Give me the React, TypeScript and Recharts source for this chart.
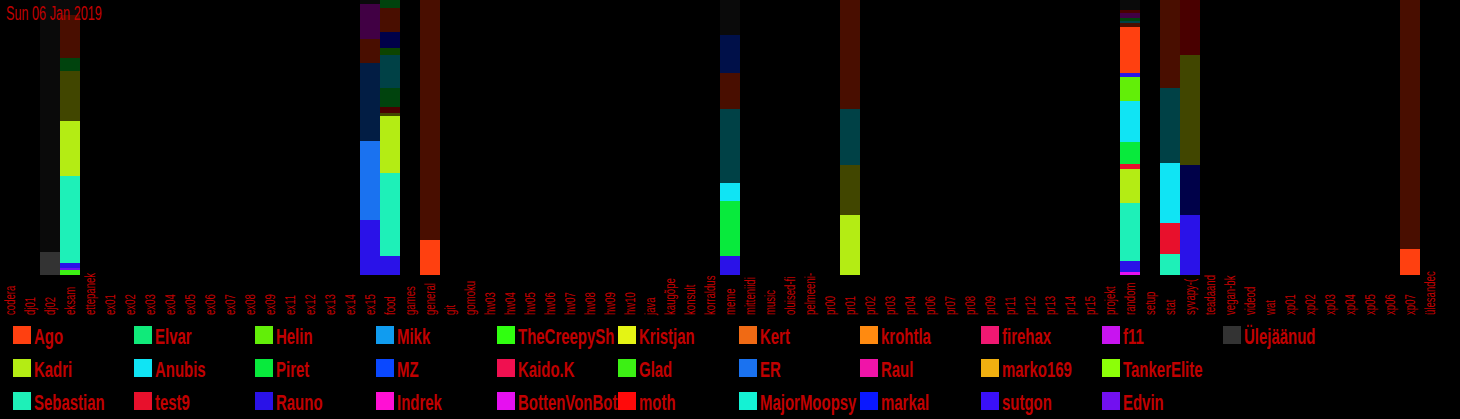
import React from 'react';
import { BarChart, Bar, XAxis, YAxis, Cell } from 'recharts';

const title = 'Sun 06 Jan 2019';

const categories = [
  'codera', 'dj01', 'dj02', 'eksam', 'ettepanek', 'ex01', 'ex02', 'ex03', 'ex04', 'ex05', 'ex06', 'ex07',
  'ex08', 'ex09', 'ex11', 'ex12', 'ex13', 'ex14', 'ex15', 'food', 'games', 'general', 'git', 'gomoku',
  'hw03', 'hw04', 'hw05', 'hw06', 'hw07', 'hw08', 'hw09', 'hw10', 'java', 'kaugõpe', 'konsult', 'korraldus',
  'meme', 'mitteniidi', 'music', 'oluised-fi', 'pelmeeni-', 'pr00', 'pr01', 'pr02', 'pr03', 'pr04', 'pr06',
  'pr07', 'pr08', 'pr09', 'pr11', 'pr12', 'pr13', 'pr14', 'pr15', 'projekt', 'random', 'setup', 'stat',
  'syvapy-(', 'teadaand', 'vegan-bk', 'videod', 'wat', 'xp01', 'xp02', 'xp03', 'xp04', 'xp05', 'xp06',
  'xp07', 'ülesandec',
];

// legend order (column-major, 3 rows)
const users = [
  'Ago', 'Kadri', 'Sebastian', 'Elvar', 'Anubis', 'test9', 'Helin', 'Piret', 'Rauno', 'Mikk', 'MZ', 'Indrek',
  'TheCreepySh', 'Kaido.K', 'BottenVonBot', 'Kristjan', 'Glad', 'moth', 'Kert', 'ER', 'MajorMoopsy',
  'krohtla', 'Raul', 'markal', 'firehax', 'marko169', 'sutgon', 'f11', 'TankerElite', 'Edvin', 'Ülejäänud',
];
const userColors = [
  '#ff4010', '#b4ec14', '#1ef0b8', '#10ea7a', '#10e4f4', '#e8102c', '#62ee08', '#08ea3c', '#2a12e8', '#109cf0',
  '#0a48ff', '#ff10d4', '#30ff10', '#f01050', '#e610f0', '#e4f414', '#3cf014', '#ff0a0a', '#f06a14', '#1a72f0',
  '#14f2d4', '#ff8a10', '#f014a8', '#0a18ff', '#f01872', '#f0b010', '#3a10f8', '#c814f0', '#8cff08', '#7210f0',
  '#333333',
];

// stacks, bottom to top: [user, share, earlier period]
type Seg = [string, number, boolean?];
const dj02Stack: Seg[] = [['Ülejäänud', 23], ['Ülejäänud', 252, true]];
const eksamStack: Seg[] = [
  ['Glad', 5], ['Edvin', 2], ['Rauno', 5], ['Sebastian', 87], ['Kadri', 55], ['Kristjan', 50, true],
  ['Piret', 13, true], ['Ago', 43, true], ['Ülejäänud', 15, true],
];
const ex15Stack: Seg[] = [
  ['Rauno', 55], ['ER', 79], ['ER', 78, true], ['Ago', 24, true], ['BottenVonBot', 35, true], ['Ülejäänud', 4, true],
];
const foodStack: Seg[] = [
  ['Rauno', 19], ['Sebastian', 83], ['Kadri', 57], ['Kristjan', 3, true], ['moth', 6, true], ['Piret', 19, true],
  ['Anubis', 33, true], ['Glad', 7, true], ['markal', 16, true], ['Ago', 24, true], ['Piret', 8, true],
];
const generalStack: Seg[] = [['Ago', 35], ['Ago', 240, true]];
const memeStack: Seg[] = [
  ['Rauno', 19], ['Piret', 55], ['Anubis', 18], ['Anubis', 74, true], ['Ago', 36, true], ['MZ', 38, true],
  ['Ülejäänud', 35, true],
];
const pr01Stack: Seg[] = [['Kadri', 60], ['Kristjan', 50, true], ['Anubis', 56, true], ['Ago', 109, true]];
const randomStack: Seg[] = [
  ['BottenVonBot', 3], ['Rauno', 11], ['Sebastian', 58], ['Kadri', 34], ['test9', 5], ['Piret', 22],
  ['Anubis', 41], ['Helin', 24], ['Rauno', 4], ['Ago', 46], ['Ago', 4, true], ['Anubis', 2, true],
  ['Piret', 3, true], ['BottenVonBot', 5, true], ['moth', 3, true], ['Ülejäänud', 10, true],
];
const statStack: Seg[] = [['Sebastian', 21], ['test9', 31], ['Anubis', 60], ['Anubis', 75, true], ['Ago', 88, true]];
const syvapyStack: Seg[] = [['Rauno', 60], ['markal', 50, true], ['Kristjan', 110, true], ['moth', 55, true]];
const xp07Stack: Seg[] = [['Ago', 26], ['Ago', 249, true]];

const channelStacks: Record<string, Seg[]> = {
  dj02: dj02Stack, eksam: eksamStack, ex15: ex15Stack, food: foodStack, general: generalStack,
  meme: memeStack, pr01: pr01Stack, random: randomStack, stat: statStack, 'syvapy-(': syvapyStack,
  xp07: xp07Stack,
};

const TEXT_RED = '#c00000';
const FONT = '"Liberation Sans", Arial, sans-serif';

function shade(hex: string, dim?: boolean): string {
  if (!dim) return hex;
  const n = parseInt(hex.slice(1), 16);
  const d = (c: number) => Math.max(0, Math.round(c * 0.31 - 6));
  return `rgb(${d((n >> 16) & 255)},${d((n >> 8) & 255)},${d(n & 255)})`;
}
const colorOf = (u: string) => userColors[users.indexOf(u)] ?? '#333333';

const layerCount = Math.max(...Object.values(channelStacks).map((s) => s.length));
const layers = Array.from({ length: layerCount }, (_, i) => i);

const rows = categories.map((name) => {
  const stack = channelStacks[name] ?? [];
  const row: Record<string, any> = { name };
  layers.forEach((i) => {
    const seg = stack[i];
    row[`s${i}`] = seg ? seg[1] : 0;
    row[`c${i}`] = seg ? shade(colorOf(seg[0]), seg[2]) : 'transparent';
  });
  return row;
});

const CatTick = (props: any) => {
  const { x, payload } = props;
  return (
    <g transform={`translate(${x + 5},315) rotate(-90) scale(0.64,1)`}>
      <text x={0} y={0} fill={TEXT_RED} fontSize={15} fontFamily={FONT} textAnchor="start">
        {payload.value}
      </text>
    </g>
  );
};

const LegendBlock = () => (
  <>
    {users.map((u, i) => {
      const col = Math.floor(i / 3);
      const row = i % 3;
      return (
        <div
          key={u}
          style={{ position: 'absolute', left: 13 + col * 121, top: 326 + row * 33, width: 118, height: 24 }}
        >
          <div style={{ position: 'absolute', left: 0, top: 0, width: 18, height: 18, background: userColors[i] }} />
          <div
            style={{
              position: 'absolute', left: 21, top: -0.5,
              fontFamily: FONT, fontSize: 22, fontWeight: 'bold', lineHeight: '22px', color: TEXT_RED,
              whiteSpace: 'nowrap', transform: 'scaleX(0.68)', transformOrigin: 'left top',
            }}
          >
            {u}
          </div>
        </div>
      );
    })}
  </>
);

export default function App() {
  return (
    <div style={{ position: 'absolute', left: 0, top: 0, width: 1460, height: 419, background: '#000', overflow: 'hidden' }}>
      <BarChart
        width={1460}
        height={419}
        data={rows}
        margin={{ top: 0, right: 20, bottom: 0, left: 0 }}
        barCategoryGap={0}
        barGap={0}
        stackOffset="expand"
      >
        <XAxis dataKey="name" interval={0} height={144} axisLine={false} tickLine={false} tick={(p: any) => <CatTick {...p} />} />
        <YAxis hide domain={[0, 1]} />
        {layers.map((i) => (
          <Bar key={i} dataKey={`s${i}`} stackId="a" isAnimationActive={false}>
            {rows.map((r, j) => (
              <Cell key={j} fill={r[`c${i}`]} />
            ))}
          </Bar>
        ))}
      </BarChart>
      <div
        style={{
          position: 'absolute', left: 6, top: 3.5, fontFamily: FONT, fontSize: 19.5, lineHeight: '19.5px',
          color: TEXT_RED, whiteSpace: 'nowrap', transform: 'scaleX(0.65)', transformOrigin: 'left top',
        }}
      >
        {title}
      </div>
      <LegendBlock />
    </div>
  );
}
